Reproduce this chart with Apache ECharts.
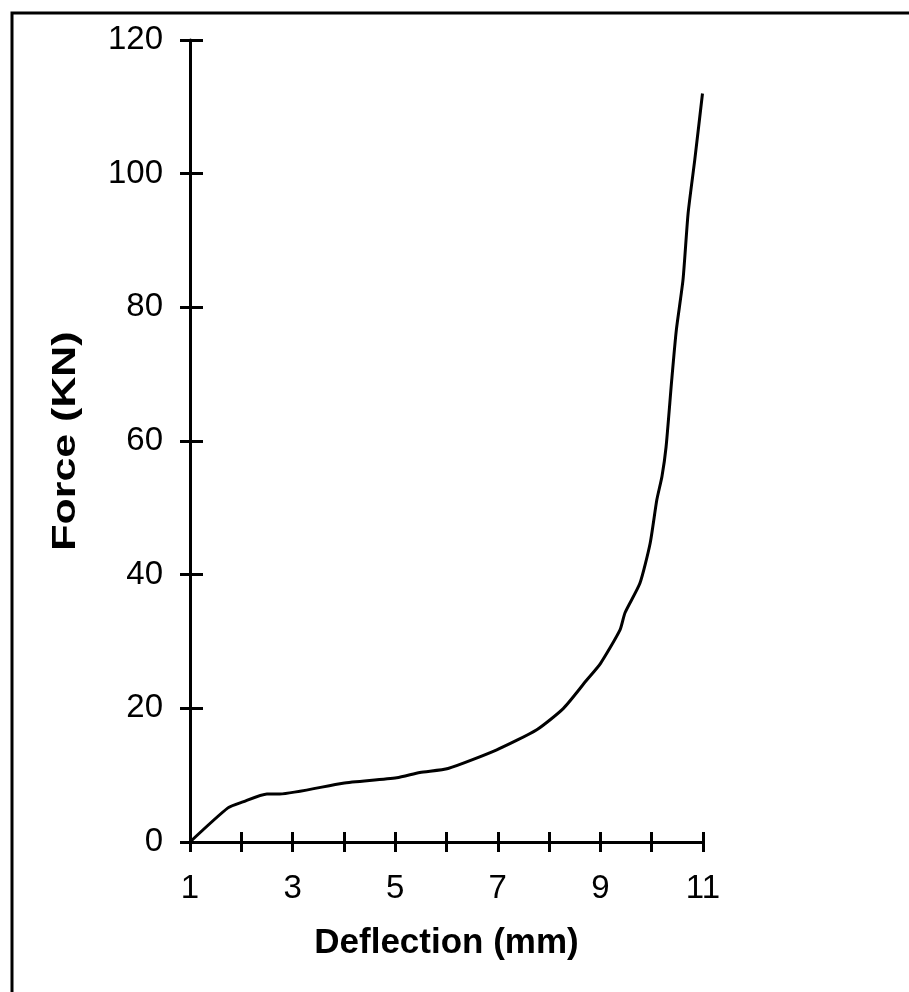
<!DOCTYPE html>
<html>
<head>
<meta charset="utf-8">
<script src="https://cdn.jsdelivr.net/npm/echarts@6/dist/echarts.min.js"></script>
<style>
  html, body { margin: 0; padding: 0; background: #fff; }
  #chart { width: 909px; height: 992px; }
</style>
</head>
<body>
<div id="chart"></div>
<script>
// Load–deflection curve
const deflection = [1, 1.74, 2.03, 2.5, 2.75, 3.98, 5.03, 5.48, 6.03, 6.98, 7.76, 8.28, 8.73, 9.0, 9.38, 9.48, 9.77, 9.97, 10.1, 10.2, 10.28, 10.39, 10.48, 10.61, 10.71, 10.84, 10.99];
const force = [0, 5.1, 6.0, 7.2, 7.2, 8.8, 9.6, 10.4, 11.0, 13.8, 16.8, 20.0, 24.2, 26.7, 31.7, 34.3, 38.7, 44.7, 51.2, 54.7, 59.1, 69.1, 76.6, 84.1, 94.1, 102.1, 112.0];
const xTickLabels = ['1', '3', '5', '7', '9', '11'];
const yTickLabels = ['0', '20', '40', '60', '80', '100', '120'];
const xTitle = 'Deflection (mm)';
const yTitle = 'Force (KN)';

const font = 'Liberation Sans, Arial, sans-serif';
const chart = echarts.init(document.getElementById('chart'), null, { renderer: 'canvas' });

const axisLine = { show: true, lineStyle: { color: '#000', width: 3 } };

chart.setOption({
  backgroundColor: '#fff',
  animation: false,
  graphic: [{
    type: 'rect',
    shape: { x: 12, y: 13, width: 1000, height: 1000 },
    style: { fill: 'none', stroke: '#000', lineWidth: 3 },
    silent: true
  }, {
    // vertical axis title, stretched slightly along its reading direction
    type: 'text',
    x: 66, y: 441,
    rotation: Math.PI / 2,
    scaleX: 1.3,
    style: {
      text: yTitle, fill: '#000',
      font: 'bold 33px Liberation Sans, Arial, sans-serif',
      align: 'center', verticalAlign: 'middle'
    },
    silent: true
  }],
  grid: { left: 190, right: 206, top: 40, bottom: 150 },
  xAxis: [{
    type: 'value', min: 1, max: 11, interval: 1, position: 'bottom',
    axisLine: axisLine,
    axisTick: { show: true, length: 10, lineStyle: { color: '#000', width: 3 } },
    splitLine: { show: false },
    axisLabel: {
      margin: 30, color: '#000', fontSize: 33, fontFamily: font,
      formatter: v => xTickLabels.includes(String(v)) ? String(v) : ''
    },
    name: xTitle, nameLocation: 'middle', nameGap: 84,
    nameTextStyle: { color: '#000', fontSize: 35, fontWeight: 'bold', fontFamily: font }
  }, {
    type: 'value', min: 1, max: 11, interval: 1, position: 'bottom',
    axisLine: { show: false },
    axisTick: { show: true, inside: true, length: 10, lineStyle: { color: '#000', width: 3 } },
    axisLabel: { show: false },
    splitLine: { show: false }
  }],
  yAxis: [{
    type: 'value', min: 0, max: 120, interval: 20, position: 'left',
    axisLine: axisLine,
    axisTick: { show: true, length: 10, lineStyle: { color: '#000', width: 3 } },
    splitLine: { show: false },
    axisLabel: {
      margin: 27, color: '#000', fontSize: 33, fontFamily: font,
      formatter: v => yTickLabels.includes(String(v)) ? String(v) : ''
    }
  }, {
    type: 'value', min: 0, max: 120, interval: 20, position: 'left',
    axisLine: { show: false },
    axisTick: { show: true, inside: true, length: 13, lineStyle: { color: '#000', width: 3 } },
    axisLabel: { show: false },
    splitLine: { show: false }
  }],
  series: [{
    type: 'line',
    xAxisIndex: 0, yAxisIndex: 0,
    data: deflection.map((x, i) => [x, force[i]]),
    showSymbol: false,
    smooth: 0.2,
    lineStyle: { color: '#000', width: 3 }
  }]
});
</script>
</body>
</html>
